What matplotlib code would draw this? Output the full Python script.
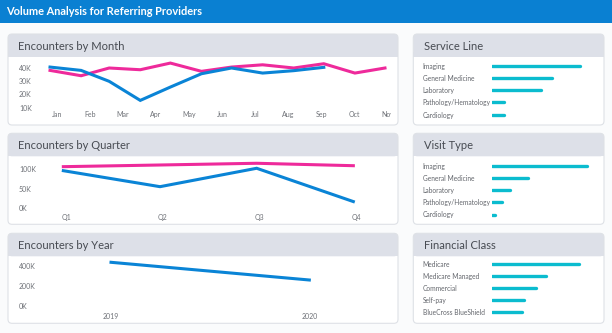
import matplotlib
matplotlib.use("Agg")
import matplotlib.pyplot as plt
import numpy as np
import pandas as pd
from matplotlib.patches import FancyBboxPatch, Rectangle
from matplotlib.transforms import Bbox, TransformedBbox, blended_transform_factory

plt.rcParams['font.family'] = ['Lato', 'DejaVu Sans']

# ---------------- data (encounters, thousands) ----------------
month_names = ['Jan', 'Feb', 'Mar', 'Apr', 'May', 'Jun',
               'Jul', 'Aug', 'Sep', 'Oct', 'Nov', 'Dec']
month_tick_labels = month_names[:11]
month_prior = [38.0, 34.0, 39.8, 38.5, 43.5, 37.3, 40.5, 42.2, 39.8, 43.0, 36.0, 39.8]
month_current = [40.5, 38.0, 29.8, 15.5, 25.5, 35.5, 39.8, 36.0, 37.8, 40.3]
month_yticks = [10, 20, 30, 40]

quarters = ['Q1', 'Q2', 'Q3', 'Q4']
quarter_prior = [106.7, 111.0, 115.4, 109.2]
quarter_current = [96.4, 55.4, 102.6, 17.2]
quarter_yticks = [0, 50, 100]

years = [2019, 2020]
year_totals = [437, 260]
year_yticks = [0, 200, 400]

service_lines = ['Imaging', 'General Medicine', 'Laboratory',
                 'Pathology/Hematology', 'Cardiology']
service_values = [278, 190, 154, 37, 37]

visit_types = ['Imaging', 'General Medicine', 'Laboratory',
               'Pathology/Hematology', 'Cardiology']
visit_values = [412, 154, 79, 42, 10]

financial_classes = ['Medicare', 'Medicare Managed', 'Commercial',
                     'Self-pay', 'BlueCross BlueShield']
financial_values = [224, 140, 114, 81, 77]

# ---------------- style ----------------
W, H = 612, 333
BLUE = '#0A84D6'
PINK = '#EE2A9B'
TEAL = '#0BBCCF'
HEAD_BAR = '#0A80D2'
PANEL_HEAD = '#DDE0E8'
PANEL_EDGE = '#DEE1E6'
TITLE_COL = '#474B52'
TICK_COL = '#6E7177'

fig = plt.figure(figsize=(W / 100, H / 100), dpi=100)
fig.patch.set_facecolor('#FAFBFC')

# pixel-space canvas for the dashboard frame
bg = fig.add_axes([0, 0, 1, 1])
bg.set_xlim(0, W)
bg.set_ylim(H, 0)
bg.axis('off')

bg.add_patch(Rectangle((0, 0), W, 22.7, fc=HEAD_BAR, ec='none'))
bg.text(6, 11.6, 'Volume Analysis for Referring Providers', color='white',
        fontsize=7.9, fontweight='bold', va='center', ha='left')


def panel(x, y, w, h, title, head_h=23):
    bg.add_patch(FancyBboxPatch((x, y), w, h, boxstyle='round,pad=0,rounding_size=4',
                                fc='white', ec='none'))
    bg.add_patch(FancyBboxPatch((x, y), w, head_h, boxstyle='round,pad=0,rounding_size=4',
                                fc=PANEL_HEAD, ec='none'))
    bg.add_patch(Rectangle((x, y + head_h - 5), w, 5, fc=PANEL_HEAD, ec='none'))
    bg.add_patch(FancyBboxPatch((x, y), w, h, boxstyle='round,pad=0,rounding_size=4',
                                fc='none', ec=PANEL_EDGE, lw=0.8))
    bg.text(x + 10.4, y + head_h / 2 + 0.5, title, color=TITLE_COL, fontsize=8.0,
            va='center', ha='left')


panel(8, 34, 390, 91, 'Encounters by Month')
panel(8, 133.3, 390, 91, 'Encounters by Quarter')
panel(8, 233.3, 390, 90, 'Encounters by Year')
panel(413.3, 34, 190.7, 91, 'Service Line')
panel(413.3, 133.3, 190.7, 91, 'Visit Type')
panel(413.3, 233.3, 190.7, 90, 'Financial Class')


def px_axes(x0, y0, x1, y1):
    ax = fig.add_axes([x0 / W, 1 - y1 / H, (x1 - x0) / W, (y1 - y0) / H])
    ax.set_facecolor('none')
    for s in ax.spines.values():
        s.set_visible(False)
    ax.tick_params(length=0, labelsize=5, labelcolor=TICK_COL)
    return ax


def left_labels(ax, left_px, label_x):
    ax.tick_params(axis='y', pad=(left_px - label_x) * 0.72)
    for t in ax.get_yticklabels():
        t.set_ha('left')


# ---------------- Encounters by Month ----------------
day_index = (pd.date_range('2019-01-01', periods=12, freq='MS').dayofyear - 1).to_numpy()
ax = px_axes(44, 60, 392, 108)
ax.plot(day_index, month_prior, color=PINK, lw=2.2, solid_joinstyle='miter')
ax.plot(day_index[:len(month_current)], month_current, color=BLUE, lw=2.2,
        solid_joinstyle='miter')
ax.set_xlim(-6, 341)
ax.set_ylim(9.8, 45.8)
ax.set_yticks(month_yticks)
ax.set_yticklabels([f'{v}K' for v in month_yticks])
ax.set_xticks([])
left_labels(ax, 44, 19)
# month labels, cut off at the right edge of the panel body
label_tf = blended_transform_factory(ax.transData, bg.transData)
label_clip = TransformedBbox(Bbox.from_extents(0, 0, 390.6 / W, 1), fig.transFigure)
for pos, name in zip(6.7 + 33.0 * np.arange(len(month_tick_labels)), month_tick_labels):
    t = bg.text(pos, 114.2, name, transform=label_tf, fontsize=5, color=TICK_COL,
                ha='center', va='center', clip_on=True)
    t.set_clip_box(label_clip)

# ---------------- Encounters by Quarter ----------------
qx = np.arange(len(quarters))
ax = px_axes(44, 160, 392, 210)
ax.plot(qx, quarter_prior, color=PINK, lw=2.2)
ax.plot(qx, quarter_current, color=BLUE, lw=2.2, solid_joinstyle='miter')
ax.set_xlim(-0.2, 3.4)
ax.set_ylim(-4.4, 123.8)
ax.set_yticks(quarter_yticks)
ax.set_yticklabels([f'{v}K' for v in quarter_yticks])
ax.set_xticks(qx + 0.03)
ax.set_xticklabels(quarters)
ax.tick_params(axis='x', pad=2.8)
left_labels(ax, 44, 19)

# ---------------- Encounters by Year ----------------
ax = px_axes(44, 258, 392, 308)
ax.plot(years, year_totals, color=BLUE, lw=2.2)
ax.set_xlim(2018.662, 2020.417)
ax.set_ylim(-20, 480)
ax.set_yticks(year_yticks)
ax.set_yticklabels([f'{v}K' for v in year_yticks])
ax.set_xticks(years)
ax.set_xticklabels([str(y) for y in years])
ax.tick_params(axis='x', pad=3.4)
left_labels(ax, 44, 19)


# ---------------- horizontal bar panels ----------------
def bar_panel(top_px, cats, vals, xmax, spacing=12.2):
    n = len(cats)
    ax = px_axes(492.4, top_px, 597.4, top_px + n * spacing)
    y = np.arange(n)
    ax.hlines(y, 0, vals, color=TEAL, lw=2.4, capstyle='round')
    ax.set_xlim(0, xmax)
    ax.set_ylim(n - 0.5, -0.5)
    ax.set_xticks([])
    ax.set_yticks(y)
    ax.set_yticklabels(cats)
    ax.tick_params(axis='y', labelsize=4.8, labelcolor='#63666C')
    left_labels(ax, 492.4, 422.7)
    return ax


bar_panel(59.6, service_lines, service_values, 333)
bar_panel(159.6, visit_types, visit_values, 459)
bar_panel(258.3, financial_classes, financial_values, 273, spacing=12.0)

fig.savefig('out.png', dpi=100, facecolor=fig.get_facecolor())
